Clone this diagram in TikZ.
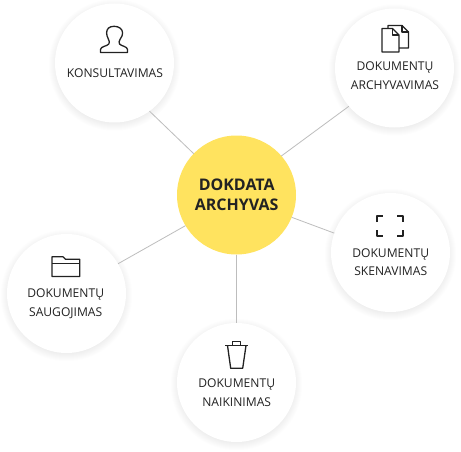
\documentclass[tikz,border=0pt]{standalone}
\usepackage{fontspec}
\setmainfont{Open Sans}
\definecolor{hubyellow}{HTML}{FFE35F}
\definecolor{ink}{HTML}{222222}
\definecolor{wire}{HTML}{BDBDBD}
\newcommand{\softshadow}[2]{%
  \foreach \r in {1,2,...,28}{%
    \fill[black,fill opacity=0.0042] (#1,#2+2) circle[radius=52+0.5*\r];
  }%
}
\tikzset{
  disc/.style={circle,fill=white,minimum size=119pt,inner sep=0pt,outer sep=0pt},
  hubdisc/.style={disc,fill=hubyellow},
  wirelink/.style={draw=wire,line width=0.8pt},
  caption/.style={align=center,inner sep=0pt,text=ink,font=\fontsize{12.1}{18.5}\selectfont},
  hubtext/.style={align=center,inner sep=0pt,text=ink,font=\fontsize{16}{20}\selectfont\bfseries},
  glyph/.style={draw=ink,line width=1.3pt,line join=round,fill=none}
}
\begin{document}
\begin{tikzpicture}[x=1pt,y=-1pt]
\useasboundingbox (0,0) rectangle (461,452);
\fill[white] (0,0) rectangle (461,452);
\softshadow{114.5}{63}
\softshadow{394.5}{68}
\softshadow{390.5}{252.5}
\softshadow{236.5}{382.5}
\softshadow{66.5}{293.5}
\node[hubdisc] (hub) at (236.5,195) {};
\node[disc] (kons) at (114.5,63) {};
\node[disc] (arch) at (394.5,68) {};
\node[disc] (sken) at (390.5,252.5) {};
\node[disc] (naik) at (236.5,382.5) {};
\node[disc] (saug) at (66.5,293.5) {};
\draw[wirelink] (hub.136) -- (kons.-54);
\draw[wirelink] (hub.41.5) -- (arch.220);
\draw[wirelink] (hub.-22.7) -- (sken.161);
\draw[wirelink] (hub.-90) -- (naik.90);
\draw[wirelink] (hub.211) -- (saug.30);
\node[hubtext] (hubt) at (236.7,195) {DOKDATA\\ARCHYVAS};
\node[caption] (konst) at (115,72.7) {KONSULTAVIMAS};
\node[caption] (archt) at (395,75.9) {DOKUMENTŲ\\ARCHYVAVIMAS};
\node[caption] (skent) at (390.7,262.4) {DOKUMENTŲ\\SKENAVIMAS};
\node[caption] (naikt) at (236.7,392.5) {DOKUMENTŲ\\NAIKINIMAS};
\node[caption] (saugt) at (65.7,303.5) {DOKUMENTŲ\\SAUGOJIMAS};
% person
\draw[glyph] (100.5,52.5) -- (127.5,52.5) -- (127.5,49.5)
  .. controls (127.5,46.5) and (121,46) .. (119.5,44)
  .. controls (118.8,42.5) and (119,41) .. (120,39.5)
  .. controls (122,37) and (122.6,34.5) .. (122.6,33)
  .. controls (122.6,29) and (119,26.3) .. (114,26.3)
  .. controls (109,26.3) and (106.6,29) .. (106.6,33)
  .. controls (106.6,34.5) and (107.2,37) .. (108.5,39.5)
  .. controls (109.5,41) and (109.7,42.5) .. (108.8,44)
  .. controls (107.5,46) and (100.5,46.5) .. (100.5,49.5) -- cycle;
% documents
\draw[glyph] (382,28.5) -- (392.5,28.5) -- (399,35) -- (399,52) -- (382,52) -- cycle;
\draw[glyph] (392.5,28.5) -- (392.5,35) -- (399,35);
\draw[glyph] (388,28.5) -- (388,25.5) -- (402,25.5) -- (408.5,32) -- (408.5,48) -- (399,48);
\draw[glyph] (402,25.5) -- (402,32) -- (408.5,32);
% scan frame
\draw[glyph] (377,222) -- (377,216) -- (383,216);
\draw[glyph] (397,216) -- (403,216) -- (403,222);
\draw[glyph] (377,230) -- (377,236) -- (383,236);
\draw[glyph] (397,236) -- (403,236) -- (403,230);
% trash
\draw[glyph] (225,345.5) -- (247.7,345.5);
\draw[glyph] (232.7,345.5) -- (232.7,341.7) -- (240.7,341.7) -- (240.7,345.5);
\draw[glyph] (227.5,345.5) -- (230.7,368.3) -- (242.7,368.3) -- (246,345.5);
% folder
\draw[glyph] (52,276.5) -- (52,256.8) -- (63,256.8) -- (65.5,259.3) -- (79.7,259.3) -- (79.7,276.5) -- cycle;
\draw[glyph] (52,263.5) -- (79.7,263.5);
\end{tikzpicture}
\end{document}
